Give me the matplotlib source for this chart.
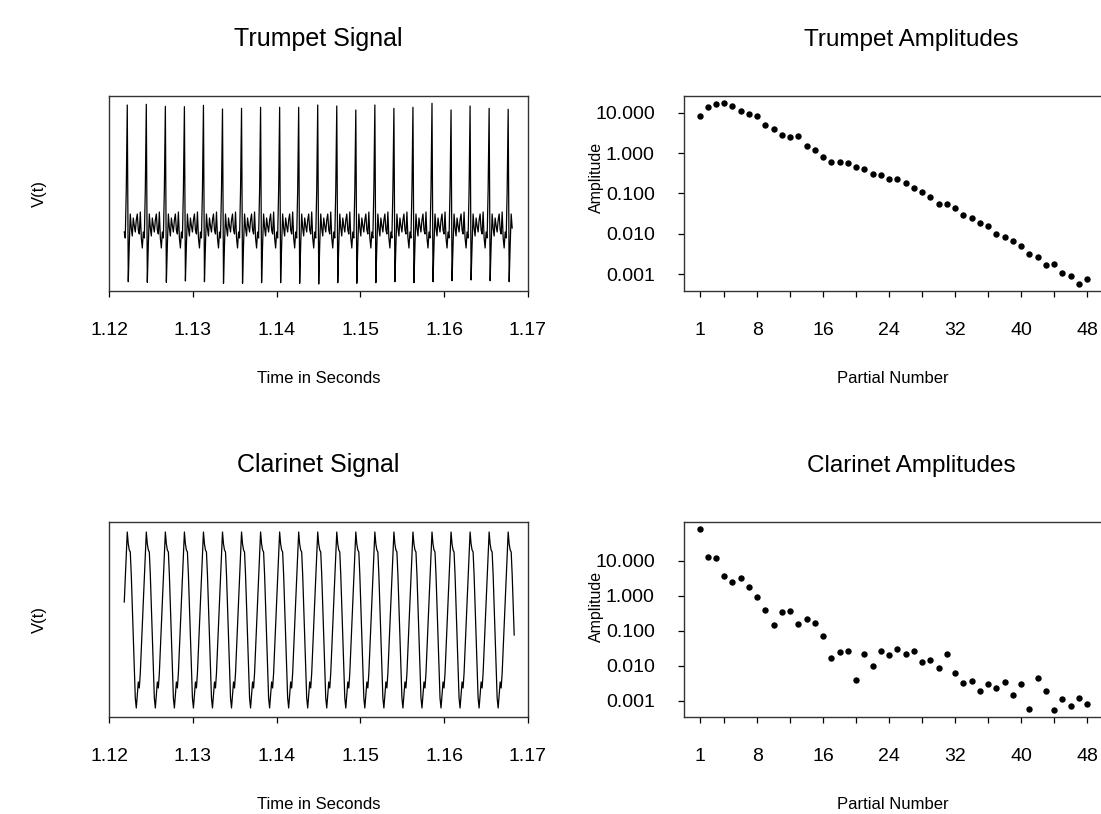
import numpy as np
import matplotlib
matplotlib.use("Agg")
import matplotlib.pyplot as plt

plt.rcParams['font.family'] = ['Liberation Sans', 'DejaVu Sans']

# ---------------- data ----------------
# one period of the trumpet waveform (19 samples, starting at the spike);
# index 0 (spike top) and 1 (spike bottom) vary per period, see lists below
trumpet_period_shape = [0, 0, -15, 16, 2, -6, 12, 4, -2, 10, 16, 0, -4, 18, -8, -18, -2, -8, 40]
trumpet_peaks = [125, 125.7, 123.7, 123.3, 124.7, 121, 121.7, 122.7, 122.7, 122.7, 125,
                 124, 120, 125, 121.7, 122.7, 126.7, 120, 124, 121.7, 120.7]
trumpet_troughs = [-51.7, -52.3, -52.3, -51, -51.7, -53.3, -53.3, -52.7, -52.7, -53.3, -54,
                   -52.7, -53.3, -52.7, -51.7, -52.7, -51.7, -50.7, -50, -50.7, -51.7]

# one period of the clarinet waveform (19 samples, starting at the crest)
clarinet_period_shape = [88, 76, 70, 68, 45, 15, -15, -45, -78, -88, -75, -62, -68, -53, -30, -6, 18, 42, 66]

first_peak_time = 1.12218      # seconds
fundamental_hz = 440.0
n_peaks = 21

partials = list(range(1, 49))
trumpet_amp = [8.28, 13.6, 16.4, 17.1, 14.6, 10.8, 9.29, 8.28, 4.95, 3.88,
               2.80, 2.45, 2.64, 1.49, 1.17, 0.783, 0.600, 0.600, 0.566, 0.443,
               0.395, 0.302, 0.281, 0.223, 0.227, 0.177, 0.133, 0.108, 0.0812, 0.0536,
               0.0536, 0.0426, 0.0286, 0.0241, 0.0181, 0.0153, 0.00966, 0.00813, 0.00647, 0.00486,
               0.00308, 0.00260, 0.00164, 0.00177, 0.00104, 0.000878, 0.000556, 0.000740]
clarinet_amp = [80.5, 12.8, 11.9, 3.73, 2.51, 3.21, 1.77, 0.918, 0.398, 0.146,
                0.342, 0.373, 0.158, 0.220, 0.166, 0.0706, 0.0166, 0.0246, 0.0263, 0.0039,
                0.0216, 0.0100, 0.0263, 0.0202, 0.0300, 0.0220, 0.0263, 0.01276, 0.01455, 0.00859,
                0.0216, 0.00618, 0.00320, 0.00365, 0.00189, 0.00300, 0.00231, 0.00342, 0.00146, 0.00300,
                0.000579, 0.00445, 0.00189, 0.000542, 0.00112, 0.000706, 0.00119, 0.000805]

time_ticks = [1.12, 1.13, 1.14, 1.15, 1.16, 1.17]
partial_major_ticks = [1, 8, 16, 24, 32, 40, 48]
partial_minor_ticks = [4, 12, 20, 28, 36, 44]
amp_ticks = [10, 1, 0.1, 0.01, 0.001]
amp_tick_labels = ["10.000", "1.000", "0.100", "0.010", "0.001"]


# ---------------- assemble the sampled signals ----------------
def assemble(shape, peaks, troughs, start_idx, end_idx):
    """Concatenate the period shape n_peaks times, starting mid-period at
    start_idx and stopping in the last period at end_idx."""
    vals = list(shape[start_idx:])
    for k in range(n_peaks):
        per = list(shape)
        if peaks is not None:
            per[0] = peaks[k]
            per[1] = troughs[k]
        if k == n_peaks - 1:
            per = per[:end_idx + 1]
        vals.extend(per)
    return np.array(vals, dtype=float), len(shape) - start_idx


n_samp = len(trumpet_period_shape)
dt = 1.0 / fundamental_hz / n_samp

trumpet_sig, pre_t = assemble(trumpet_period_shape, trumpet_peaks, trumpet_troughs, 16, 4)
trumpet_time = first_peak_time + (np.arange(len(trumpet_sig)) - pre_t) * dt

clarinet_sig, pre_c = assemble(clarinet_period_shape, None, None, 16, 6)
clarinet_time = first_peak_time + (np.arange(len(clarinet_sig)) - pre_c) * dt

# ---------------- figure ----------------
W, H = 1101, 814
fig = plt.figure(figsize=(W / 100, H / 100), dpi=100)


def pos(left, top, width, height):
    return [left / W, 1 - (top + height) / H, width / W, height / H]


TICK_FS = 14
LAB_FS = 12
TITLE_FS = 18


def style_axes(ax):
    for s in ax.spines.values():
        s.set_linewidth(1.0)
        s.set_color('#333333')
    ax.tick_params(direction='out', length=4, width=0.9, labelsize=TICK_FS, colors='black')


def signal_panel(rect, t, v, ylim, title):
    ax = fig.add_axes(pos(*rect))
    ax.plot(t, v, color='black', lw=0.9)
    ax.set_xlim(1.12, 1.17)
    ax.set_ylim(*ylim)
    ax.set_xticks(time_ticks)
    ax.set_xticklabels([f"{x:.2f}" for x in time_ticks])
    ax.set_yticks([])
    style_axes(ax)
    ax.tick_params(axis='x', pad=18)
    ax.set_xlabel("Time in Seconds", fontsize=LAB_FS)
    ax.xaxis.set_label_coords(0.5, -0.41)
    ax.set_ylabel("V(t)", fontsize=LAB_FS)
    ax.yaxis.set_label_coords(-0.148, 0.5)
    ax.set_title(title, fontsize=TITLE_FS, pad=36)
    return ax


def amp_panel(rect, amps, ylog, title, ylab_y):
    ax = fig.add_axes(pos(*rect))
    ax.plot(partials, amps, 'o', color='black', markersize=4.6, markeredgewidth=0)
    ax.set_yscale('log')
    ax.set_xlim(-0.88, 49.88)
    ax.set_ylim(10 ** ylog[0], 10 ** ylog[1])
    ax.set_xticks(partial_major_ticks)
    ax.set_xticklabels([str(p) for p in partial_major_ticks])
    ax.set_xticks(partial_minor_ticks, minor=True)
    ax.set_yticks(amp_ticks)
    ax.set_yticklabels(amp_tick_labels)
    ax.yaxis.set_minor_locator(matplotlib.ticker.NullLocator())
    style_axes(ax)
    ax.tick_params(axis='x', which='both', direction='out', length=4, width=0.9, pad=18)
    ax.tick_params(axis='y', pad=17)
    ax.set_xlabel("Partial Number", fontsize=LAB_FS)
    ax.xaxis.set_label_coords(0.5, -0.41)
    ax.set_ylabel("Amplitude", fontsize=11.5)
    ax.yaxis.set_label_coords(-0.191, ylab_y)
    ax.set_title(title, fontsize=17.5, pad=36, x=(911 - 684) / 418.6)
    return ax


signal_panel((109, 96, 419, 195), trumpet_time, trumpet_sig, (-61, 134), "Trumpet Signal")
signal_panel((109, 522, 419, 195), clarinet_time, clarinet_sig, (-97, 98), "Clarinet Signal")
amp_panel((684, 96, 418.6, 195), trumpet_amp, (-3.4215, 1.414), "Trumpet Amplitudes", 0.58)
amp_panel((684, 522, 418.6, 195), clarinet_amp, (-3.466, 2.106), "Clarinet Amplitudes", 0.565)

fig.savefig("out.png", dpi=100)
